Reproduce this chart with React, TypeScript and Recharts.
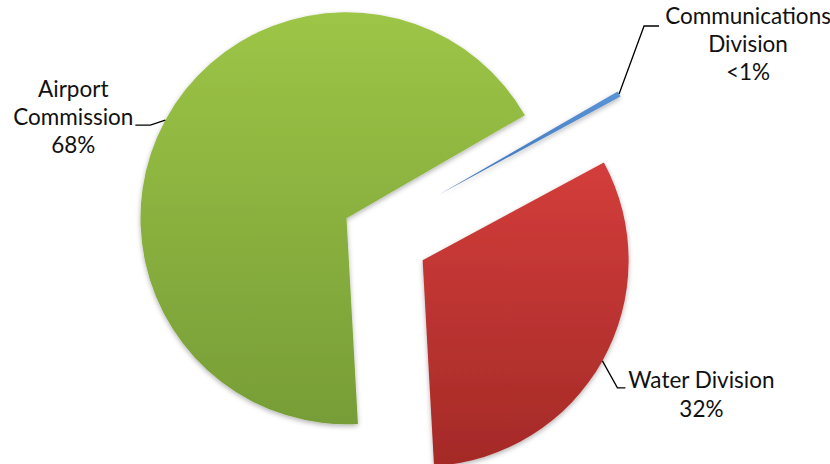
import { Pie, PieChart, Cell } from 'recharts';

const categories = ['Communications Division', 'Water Division', 'Airport Commission'];
const labelLines = [['Communications', 'Division'], ['Water Division'], ['Airport', 'Commission']];
const values = [0.45, 32.0, 67.55];
const percentLabels = ['<1%', '32%', '68%'];

// explode distance per slice, in px from the shared centre
const EXPLODE = [77, 58, 29];
const COLORS = [
  ['#5a94d6', '#3f73b5'],
  ['#d33d3b', '#a42a27'],
  ['#9dc546', '#779d37'],
];
// leader line + text placement relative to the slice's outer mid point
const LABEL_LAYOUT = [
  { elbow: [25, -68], end: [40, -68], textX: 129, baselines: [-70, -42, -14] },
  { elbow: [15, 27], end: [23, 27], textX: 99, baselines: [27, 56] },
  { elbow: [-15, 5], end: [-30, 5], textX: -92, baselines: [-23, 5, 33] },
];

const W = 830;
const H = 464;
const CX = 372;
const CY = 232;
const R = 206;
const START = 30;
const RADIAN = Math.PI / 180;

const total = values.reduce((a, b) => a + b, 0);
let acc = 0;
const slices = values.map((v, i) => {
  const sa = START - (360 * acc) / total;
  acc += v;
  const ea = START - (360 * acc) / total;
  const mid = (sa + ea) / 2;
  return {
    i,
    data: [{ name: categories[i], value: v }],
    sa,
    ea,
    cx: CX + EXPLODE[i] * Math.cos(mid * RADIAN),
    cy: CY - EXPLODE[i] * Math.sin(mid * RADIAN),
  };
});

const FONT = 'Lato, "Open Sans", sans-serif';

function makeLabel(i: number) {
  return (props: any) => {
    const { cx, cy, midAngle, outerRadius } = props;
    const px = cx + outerRadius * Math.cos(-midAngle * RADIAN);
    const py = cy + outerRadius * Math.sin(-midAngle * RADIAN);
    const L = LABEL_LAYOUT[i];
    const lines = [...labelLines[i], percentLabels[i]];
    return (
      <g>
        <polyline
          points={`${px},${py} ${px + L.elbow[0]},${py + L.elbow[1]} ${px + L.end[0]},${py + L.end[1]}`}
          fill="none"
          stroke="#000"
          strokeWidth={1.3}
        />
        {lines.map((t, k) => (
          <text
            key={k}
            x={px + L.textX}
            y={py + L.baselines[k]}
            textAnchor="middle"
            fontFamily={FONT}
            fontSize={22.5}
            fill="#111"
          >
            {t}
          </text>
        ))}
      </g>
    );
  };
}

export default function App() {
  return (
    <div style={{ position: 'fixed', left: 0, top: 0, width: W, height: H, background: '#fff' }}>
      <PieChart width={W} height={H} margin={{ top: 0, right: 0, bottom: 0, left: 0 }}>
        <defs>
          {COLORS.map((c, i) => (
            <linearGradient key={i} id={`grad${i}`} x1="0" y1="0" x2="0" y2="1">
              <stop offset="0%" stopColor={c[0]} />
              <stop offset="100%" stopColor={c[1]} />
            </linearGradient>
          ))}
          <filter id="shadow" x="-10%" y="-10%" width="120%" height="120%">
            <feDropShadow dx="0" dy="2" stdDeviation="2.5" floodColor="#000" floodOpacity="0.3" />
          </filter>
        </defs>
        {slices.map((s) => (
          <Pie
            key={s.i}
            data={s.data}
            dataKey="value"
            nameKey="name"
            cx={s.cx}
            cy={s.cy}
            outerRadius={R}
            innerRadius={0}
            startAngle={s.sa}
            endAngle={s.ea}
            stroke="none"
            isAnimationActive={false}
            labelLine={false}
            label={makeLabel(s.i)}
            style={{ filter: 'url(#shadow)' }}
          >
            <Cell fill={`url(#grad${s.i})`} />
          </Pie>
        ))}
      </PieChart>
    </div>
  );
}
